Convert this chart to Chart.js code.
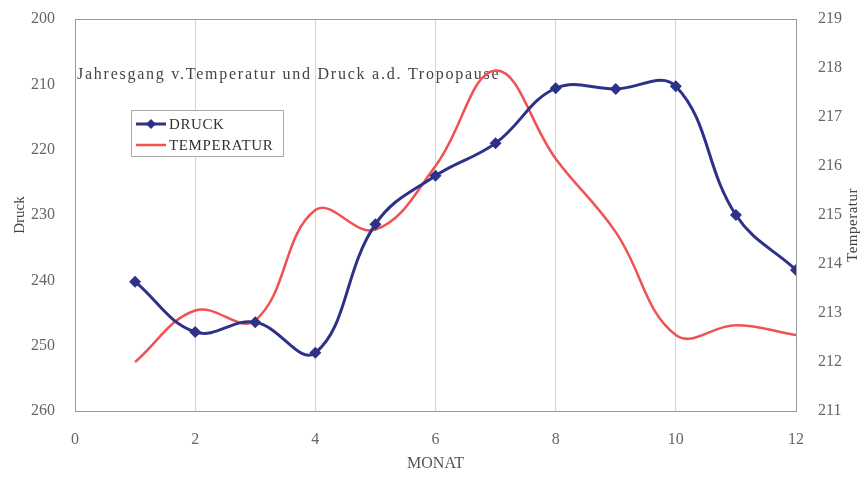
<!DOCTYPE html>
<html>
<head>
<meta charset="utf-8">
<script src="https://cdn.jsdelivr.net/npm/chart.js@4"></script>
<style>
  html, body { margin: 0; padding: 0; background: #fff; }
  #wrap { width: 862px; height: 477px; position: relative; }
</style>
</head>
<body>
<div id="wrap"><canvas id="chart"></canvas></div>
<script>
const monate = [1, 2, 3, 4, 5, 6, 7, 8, 9, 10, 11, 12];
const druck = [240.2, 247.9, 246.4, 251.1, 231.4, 224.0, 219.0, 210.6, 210.7, 210.3, 230.0, 238.4];
const temperatur = [212.0, 213.05, 212.85, 215.1, 214.7, 216.0, 217.95, 216.15, 214.65, 212.55, 212.75, 212.55];
const titel = 'Jahresgang v.Temperatur und Druck a.d. Tropopause';

const serif = '"Liberation Serif", "DejaVu Serif", serif';
const navy = 'rgb(46, 49, 136)';
const rot = 'rgb(240, 82, 82)';

// Rahmen, Titel, Legende und rechter Achsentitel
const extras = {
  id: 'extras',
  beforeDatasetsDraw(chart) {
    const { ctx, chartArea: a } = chart;
    ctx.save();
    ctx.strokeStyle = '#9a9a9a';
    ctx.lineWidth = 1;
    ctx.strokeRect(a.left + 0.5, a.top + 0.5, a.right - a.left, a.bottom - a.top);
    ctx.fillStyle = '#444';
    ctx.font = '16px ' + serif;
    ctx.letterSpacing = '1.75px';
    ctx.textBaseline = 'middle';
    ctx.fillText(titel, a.left + 2, 75);
    ctx.restore();
  },
  afterDraw(chart) {
    const { ctx } = chart;
    ctx.save();
    // Legende
    ctx.fillStyle = '#fff';
    ctx.fillRect(131, 110, 152, 46);
    ctx.strokeStyle = '#aaa';
    ctx.lineWidth = 1;
    ctx.strokeRect(131.5, 110.5, 152, 46);
    ctx.lineWidth = 3;
    ctx.strokeStyle = navy;
    ctx.beginPath(); ctx.moveTo(136, 124); ctx.lineTo(166, 124); ctx.stroke();
    ctx.fillStyle = navy;
    ctx.beginPath();
    ctx.moveTo(151, 119); ctx.lineTo(156, 124); ctx.lineTo(151, 129); ctx.lineTo(146, 124);
    ctx.closePath(); ctx.fill();
    ctx.strokeStyle = rot;
    ctx.lineWidth = 2.5;
    ctx.beginPath(); ctx.moveTo(136, 145); ctx.lineTo(166, 145); ctx.stroke();
    ctx.fillStyle = '#333';
    ctx.font = '15px ' + serif;
    ctx.letterSpacing = '0.6px';
    ctx.textBaseline = 'middle';
    ctx.fillText('DRUCK', 169, 125);
    ctx.fillText('TEMPERATUR', 169, 146);
    // rechter Achsentitel
    ctx.translate(853, 225);
    ctx.rotate(-Math.PI / 2);
    ctx.textAlign = 'center';
    ctx.fillStyle = '#444';
    ctx.font = '15px ' + serif;
    ctx.letterSpacing = '0.5px';
    ctx.fillText('Temperatur', 0, 0);
    ctx.restore();
  }
};

const noPad = s => { s.paddingTop = 0; s.paddingBottom = 0; };

new Chart(document.getElementById('chart'), {
  type: 'line',
  data: {
    datasets: [
      {
        label: 'DRUCK',
        data: monate.map((m, i) => ({ x: m, y: druck[i] })),
        yAxisID: 'y',
        borderColor: navy,
        backgroundColor: navy,
        borderWidth: 3,
        pointStyle: 'rectRot',
        pointRadius: 6,
        pointBorderWidth: 0,
        tension: 0.4
      },
      {
        label: 'TEMPERATUR',
        data: monate.map((m, i) => ({ x: m, y: temperatur[i] })),
        yAxisID: 'y2',
        borderColor: rot,
        backgroundColor: rot,
        borderWidth: 2.5,
        pointRadius: 0,
        tension: 0.4
      }
    ]
  },
  options: {
    responsive: true,
    maintainAspectRatio: false,
    animation: false,
    layout: { padding: { top: 19, left: 0, right: 0, bottom: 0 } },
    plugins: {
      legend: { display: false },
      tooltip: { enabled: false }
    },
    scales: {
      x: {
        type: 'linear',
        min: 0,
        max: 12,
        ticks: { stepSize: 2, color: '#666', font: { family: serif, size: 16 }, padding: 19 },
        grid: { color: '#d4d4d4', drawTicks: false },
        border: { display: false },
        title: { display: true, text: 'MONAT', color: '#555', font: { family: serif, size: 16 }, padding: { top: 0 } },
        afterFit: s => { s.height = 66; }
      },
      y: {
        position: 'left',
        reverse: true,
        min: 200,
        max: 260,
        ticks: { stepSize: 10, color: '#666', font: { family: serif, size: 16 }, padding: 12 },
        grid: { display: false },
        border: { display: false },
        title: { display: true, text: 'Druck', color: '#444', font: { family: serif, size: 15 }, padding: { top: 11 } },
        afterFit: s => { s.width = 75; noPad(s); }
      },
      y2: {
        position: 'right',
        min: 211,
        max: 219,
        ticks: { stepSize: 1, color: '#666', font: { family: serif, size: 16 }, padding: 14 },
        grid: { display: false },
        border: { display: false },
        afterFit: s => { s.width = 66; noPad(s); }
      }
    }
  },
  plugins: [extras]
});
</script>
</body>
</html>
